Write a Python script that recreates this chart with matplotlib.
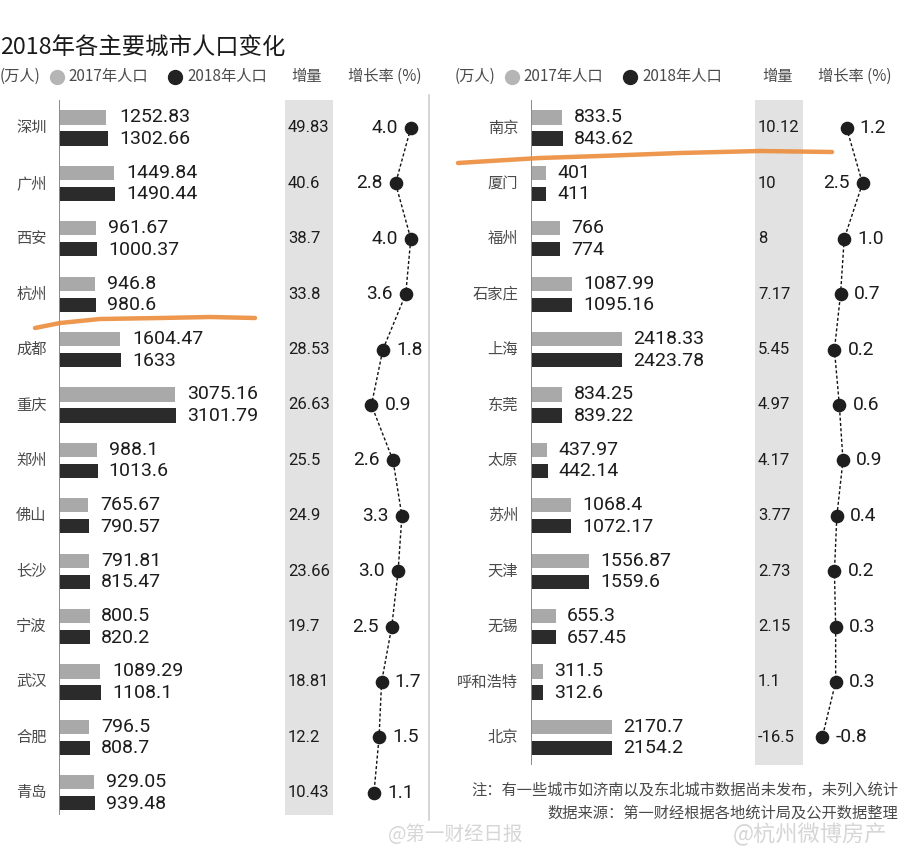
import numpy as np
import matplotlib
matplotlib.use("Agg")
import matplotlib.pyplot as plt

# ---- data ----
left_cities = ['深圳', '广州', '西安', '杭州', '成都', '重庆', '郑州',
               '佛山', '长沙', '宁波', '武汉', '合肥', '青岛']
left_2017 = [1252.83, 1449.84, 961.67, 946.8, 1604.47, 3075.16, 988.1,
             765.67, 791.81, 800.5, 1089.29, 796.5, 929.05]
left_2018 = [1302.66, 1490.44, 1000.37, 980.6, 1633, 3101.79, 1013.6,
             790.57, 815.47, 820.2, 1108.1, 808.7, 939.48]
left_inc = [49.83, 40.6, 38.7, 33.8, 28.53, 26.63, 25.5, 24.9, 23.66,
            19.7, 18.81, 12.2, 10.43]
left_rate = [4.0, 2.8, 4.0, 3.6, 1.8, 0.9, 2.6, 3.3, 3.0, 2.5, 1.7, 1.5, 1.1]

right_cities = ['南京', '厦门', '福州', '石家庄', '上海', '东莞', '太原',
                '苏州', '天津', '无锡', '呼和浩特', '北京']
right_2017 = [833.5, 401, 766, 1087.99, 2418.33, 834.25, 437.97, 1068.4,
              1556.87, 655.3, 311.5, 2170.7]
right_2018 = [843.62, 411, 774, 1095.16, 2423.78, 839.22, 442.14, 1072.17,
              1559.6, 657.45, 312.6, 2154.2]
right_inc = [10.12, 10, 8, 7.17, 5.45, 4.97, 4.17, 3.77, 2.73, 2.15, 1.1, -16.5]
right_rate = [1.2, 2.5, 1.0, 0.7, 0.2, 0.6, 0.9, 0.4, 0.2, 0.3, 0.3, -0.8]

# ---- style ----
CJK = 'Noto Sans CJK SC'
NUM = 'Roboto'
plt.rcParams['font.family'] = [CJK, 'DejaVu Sans']

C17 = '#a9a9a9'
C18 = '#2b2b2b'
BAND = '#e2e2e2'
TXT = '#1c1c1c'
LAB = '#4a4a4a'
ORANGE = '#eb8c3c'

W, H = 900, 858
ROW = 55.4            # px between rows
Y0 = 128              # px, centre of first row
PX_PER_UNIT = 0.0375  # bar length per 万人

fig = plt.figure(figsize=(W / 100, H / 100), dpi=100)
fig.patch.set_facecolor('white')


def add_px_axes(x, y, w, h):
    """Axes placed in pixel units measured from top-left."""
    ax = fig.add_axes([x / W, 1 - (y + h) / H, w / W, h / H])
    ax.set_axis_off()
    ax.patch.set_alpha(0)
    return ax


def draw_panel(cities, v17, v18, inc, rate, axis_x, bar_w, inc_x, rate_x,
               rate_w, zero_x, px_per_pct, band_bottom):
    n = len(cities)
    top = Y0 - ROW / 2
    height = 13 * ROW
    rows = np.arange(n)
    ylim = (12.5, -0.5)

    # bars
    ax = add_px_axes(axis_x, top, bar_w, height)
    ax.set_xlim(0, bar_w / PX_PER_UNIT)
    ax.set_ylim(*ylim)
    ax.barh(rows - 0.19, v17, height=0.255, color=C17)
    ax.barh(rows + 0.19, v18, height=0.255, color=C18)
    ax.vlines(0, -0.56, band_bottom, color='#8a8a8a', lw=1.4)
    for i in range(n):
        xe = max(v17[i], v18[i])
        ax.annotate(f'{v17[i]:g}', (xe, i - 0.19), xytext=(8.0, 0),
                    textcoords='offset points', va='center', ha='left',
                    fontsize=14, family=NUM, color=TXT)
        ax.annotate(f'{v18[i]:g}', (xe, i + 0.2), xytext=(8.0, 0),
                    textcoords='offset points', va='center', ha='left',
                    fontsize=14, family=NUM, color=TXT)
        ax.annotate(cities[i], (0, i), xytext=(-9.3, 0),
                    textcoords='offset points', va='center', ha='right',
                    fontsize=11, color=LAB)

    # increment column
    ai = add_px_axes(inc_x, top, 48, height)
    ai.set_xlim(0, 48)
    ai.set_ylim(*ylim)
    ai.fill_betweenx([-0.6, band_bottom], 0, 48, color=BAND, lw=0)
    for i in range(n):
        ai.text(3, i, f'{inc[i]:g}', va='center', ha='left',
                fontsize=12, family=NUM, color=TXT)

    # growth rate column
    ar = add_px_axes(rate_x, top, rate_w, height)
    ar.set_xlim(-(zero_x - rate_x) / px_per_pct,
                (rate_x + rate_w - zero_x) / px_per_pct)
    ar.set_ylim(*ylim)
    ar.plot(rate, rows, color='#111111', lw=1, ls=(0, (2.2, 1.6)))
    ar.plot(rate, rows, 'o', ms=8.8, color='#1e1e1e', ls='none')
    for i in range(n):
        left_side = rate[i] >= 2.0
        ar.annotate(f'{rate[i]:.1f}', (rate[i], i),
                    xytext=(-9.5 if left_side else 9.5, 0),
                    textcoords='offset points', va='center',
                    ha='right' if left_side else 'left',
                    fontsize=13.8, family=NUM, color=TXT)


draw_panel(left_cities, left_2017, left_2018, left_inc, left_rate,
           axis_x=59.5, bar_w=225.5, inc_x=285, rate_x=333, rate_w=97,
           zero_x=360, px_per_pct=12.7, band_bottom=12.4)
draw_panel(right_cities, right_2017, right_2018, right_inc, right_rate,
           axis_x=531, bar_w=224, inc_x=755, rate_x=803, rate_w=97,
           zero_x=832, px_per_pct=12.2, band_bottom=11.5)

# ---- overlay: title, headers, notes, hand-drawn marks ----
ov = add_px_axes(0, 0, W, H)
ov.set_xlim(0, W)
ov.set_ylim(H, 0)

ov.text(0, 48, '2018年各主要城市人口变化', fontsize=16.8, color='#1a1a1a',
        va='center', ha='left', fontweight='medium')

# left panel separator
ov.plot([429, 429], [95, 820], color='#cfcfcf', lw=1.2)

for x0, inc_lab, rate_lab in [(0, 291, 348), (455, 762, 818)]:
    ov.text(x0, 76, '(万人)', fontsize=11, color=LAB, va='center')
    ov.plot(x0 + 57, 77, 'o', ms=10, color='#b5b5b5')
    ov.text(x0 + 68, 76, '2017年人口', fontsize=11, color=LAB, va='center')
    ov.plot(x0 + 175, 77, 'o', ms=10, color='#222222')
    ov.text(x0 + 187, 76, '2018年人口', fontsize=11, color=LAB, va='center')
    ov.text(inc_lab, 76, '增量', fontsize=11, color=LAB, va='center')
    ov.text(rate_lab, 76, '增长率 (%)', fontsize=11, color=LAB, va='center')

ov.text(898, 790, '注：有一些城市如济南以及东北城市数据尚未发布，未列入统计',
        fontsize=11, color=LAB, va='center', ha='right')
ov.text(898, 813, '数据来源：第一财经根据各地统计局及公开数据整理',
        fontsize=11, color=LAB, va='center', ha='right')

ov.text(388, 834, '@第一财经日报', fontsize=14, color='#d6d6d6',
        va='center', ha='left')
ov.text(733, 834, '@杭州微博房产', fontsize=16, color='#d6d6d6',
        va='center', ha='left')

# orange marker strokes drawn over the picture
ov.plot([35, 60, 100, 160, 210, 255], [328, 323, 319, 318, 317, 318],
        color=ORANGE, lw=3.2, solid_capstyle='round', alpha=0.9)
ov.plot([458, 490, 540, 600, 680, 760, 832], [163, 161, 158, 156, 153, 151, 152],
        color=ORANGE, lw=3.2, solid_capstyle='round', alpha=0.9)

fig.savefig('out.png', dpi=100)
